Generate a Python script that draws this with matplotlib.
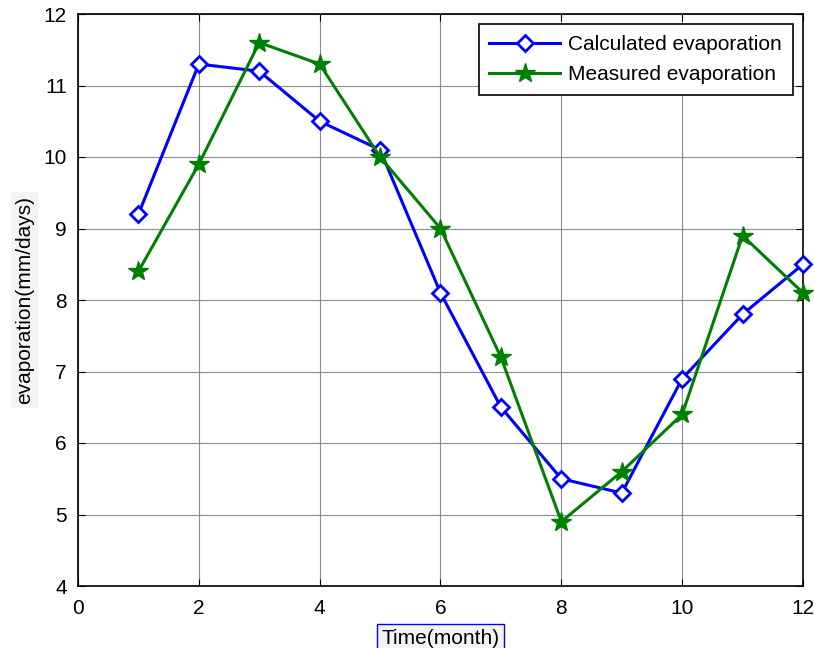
import matplotlib
matplotlib.use("Agg")
import matplotlib.pyplot as plt

plt.rcParams['font.family'] = ['Liberation Sans', 'DejaVu Sans']

months = [1, 2, 3, 4, 5, 6, 7, 8, 9, 10, 11, 12]
calculated = [9.2, 11.3, 11.2, 10.5, 10.1, 8.1, 6.5, 5.5, 5.3, 6.9, 7.8, 8.5]
measured = [8.4, 9.9, 11.6, 11.3, 10.0, 9.0, 7.2, 4.9, 5.6, 6.4, 8.9, 8.1]

fig = plt.figure(figsize=(8.14, 6.48), dpi=100)
ax = fig.add_axes([78 / 814, 1 - 586 / 648, 725 / 814, 572 / 648])

ax.plot(months, calculated, color='#0000ff', lw=2.2, marker='D', ms=8,
        mfc='white', mec='#0000ff', mew=2, label='Calculated evaporation',
        clip_on=False, zorder=3)
ax.plot(months, measured, color='#008000', lw=2.2, marker='*', ms=15,
        mfc='#008000', mec='#008000', label='Measured evaporation',
        clip_on=False, zorder=3)

ax.set_xlim(0, 12)
ax.set_ylim(4, 12)
ax.set_xticks(range(0, 13, 2))
ax.set_yticks(range(4, 13))
ax.grid(True, color='#8c8c8c', lw=0.8)
ax.tick_params(direction='in', labelsize=15, top=True, right=True, length=5)
ax.tick_params(axis='x', pad=9)
ax.tick_params(axis='y', pad=8)
for s in ax.spines.values():
    s.set_linewidth(1.2)

ax.set_xlabel('Time(month)', fontsize=15, labelpad=8,
              bbox=dict(facecolor='#f4f4f4', edgecolor='#0000ff', pad=3))
ax.set_ylabel('evaporation(mm/days)', fontsize=15, labelpad=7,
              bbox=dict(facecolor='#f4f4f4', edgecolor='none', pad=3))

leg = ax.legend(loc='upper right', fontsize=15, fancybox=False,
                edgecolor='black', framealpha=1, borderaxespad=0.5,
                handlelength=3.4, handletextpad=0.4, labelspacing=0.55,
                borderpad=0.5)
leg.get_frame().set_linewidth(1.2)

fig.savefig('out.png', dpi=100)
